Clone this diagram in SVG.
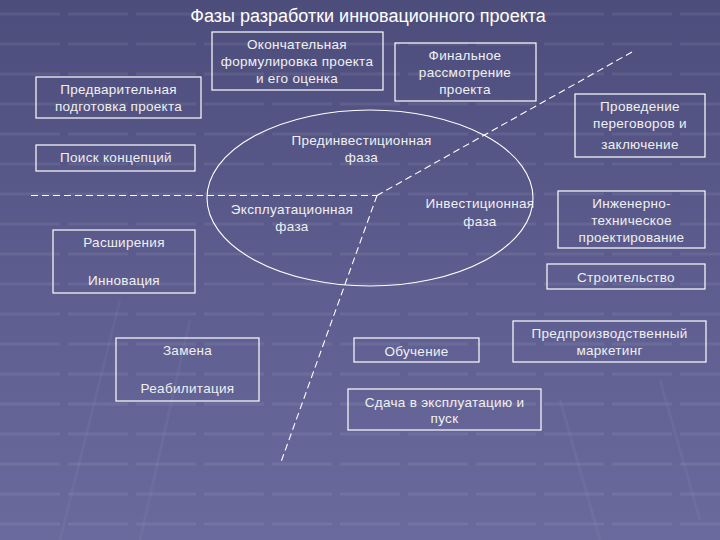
<svg xmlns="http://www.w3.org/2000/svg" width="720" height="540" viewBox="0 0 720 540">
  <defs>
    <linearGradient id="bg" x1="0" y1="0" x2="0" y2="1">
      <stop offset="0" stop-color="#4d4d7c"/>
      <stop offset="0.5" stop-color="#5c5c8e"/>
      <stop offset="1" stop-color="#6a6a9e"/>
    </linearGradient>
    <pattern id="stripes" x="0" y="0" width="720" height="30" patternUnits="userSpaceOnUse">
      <line x1="0" y1="14" x2="720" y2="14" stroke="#ffffff" stroke-opacity="0.07" stroke-width="3" stroke-dasharray="60,8"/>
    </pattern>
  </defs>
  <style>
    .box { fill: none; stroke: #ffffff; stroke-width: 1.2; }
    .t { font-family: "Liberation Sans", Arial, sans-serif; font-size: 13.5px; letter-spacing: 0.3px; fill: #f0f0f0; text-anchor: middle; }
    .title { font-family: "Liberation Sans", Arial, sans-serif; font-size: 18px; fill: #ffffff; text-anchor: middle; }
    .dash { fill: none; stroke: #ffffff; stroke-width: 1.1; stroke-dasharray: 7,4; }
    .ell { fill: none; stroke: #ffffff; stroke-width: 1.1; }
  </style>
  <rect x="0" y="0" width="720" height="540" fill="url(#bg)"/>
  <rect x="0" y="0" width="720" height="540" fill="url(#stripes)"/>
  <g stroke="#ffffff" stroke-opacity="0.04" stroke-width="3" fill="none">
    <line x1="60" y1="540" x2="120" y2="300"/>
    <line x1="140" y1="540" x2="190" y2="320"/>
    <line x1="600" y1="540" x2="560" y2="400"/>
    <line x1="700" y1="520" x2="660" y2="380"/>
  </g>

  <text class="title" x="368" y="22">Фазы разработки инновационного проекта</text>

  <g id="connectors">
    <ellipse class="ell" cx="370" cy="198" rx="163" ry="88"/>
    <line class="dash" x1="31" y1="195.5" x2="377" y2="195.5"/>
    <line class="dash" x1="632" y1="52" x2="377" y2="195.5"/>
    <line class="dash" x1="377" y1="195.5" x2="281" y2="462"/>
  </g>

  <g id="n-final-formulation">
    <rect class="box" x="212" y="32" width="171" height="58"/>
    <text class="t" x="297" y="49">Окончательная</text>
    <text class="t" x="297" y="66">формулировка проекта</text>
    <text class="t" x="297" y="83">и его оценка</text>
  </g>
  <g id="n-final-review">
    <rect class="box" x="395" y="43" width="141" height="58"/>
    <text class="t" x="465" y="60">Финальное</text>
    <text class="t" x="465" y="77">рассмотрение</text>
    <text class="t" x="465" y="94">проекта</text>
  </g>
  <g id="n-preliminary">
    <rect class="box" x="36" y="77" width="165" height="41"/>
    <text class="t" x="118.5" y="94">Предварительная</text>
    <text class="t" x="118.5" y="111">подготовка  проекта</text>
  </g>
  <g id="n-concept-search">
    <rect class="box" x="36" y="145" width="159" height="26"/>
    <text class="t" x="116" y="162">Поиск концепций</text>
  </g>
  <g id="n-negotiations">
    <rect class="box" x="575" y="94" width="130" height="63"/>
    <text class="t" x="640" y="111">Проведение</text>
    <text class="t" x="640" y="128">переговоров и</text>
    <text class="t" x="640" y="149">заключение</text>
  </g>
  <g id="n-preinvest-phase">
    <text class="t" x="361.5" y="145">Прединвестиционная</text>
    <text class="t" x="361.5" y="162">фаза</text>
  </g>
  <g id="n-operation-phase">
    <text class="t" x="292" y="214">Эксплуатационная</text>
    <text class="t" x="292" y="231">фаза</text>
  </g>
  <g id="n-invest-phase">
    <text class="t" x="480" y="208">Инвестиционная</text>
    <text class="t" x="480" y="226">фаза</text>
  </g>
  <g id="n-expansion">
    <rect class="box" x="53" y="230" width="142" height="63"/>
    <text class="t" x="124" y="247">Расширения</text>
    <text class="t" x="124" y="285">Инновация</text>
  </g>
  <g id="n-replacement">
    <rect class="box" x="116" y="338" width="143" height="63"/>
    <text class="t" x="187.5" y="355">Замена</text>
    <text class="t" x="187.5" y="393">Реабилитация</text>
  </g>
  <g id="n-engineering">
    <rect class="box" x="558" y="191" width="147" height="57"/>
    <text class="t" x="631.5" y="208">Инженерно-</text>
    <text class="t" x="631.5" y="225">техническое</text>
    <text class="t" x="631.5" y="242">проектирование</text>
  </g>
  <g id="n-construction">
    <rect class="box" x="547" y="264" width="158" height="25"/>
    <text class="t" x="626" y="282">Строительство</text>
  </g>
  <g id="n-marketing">
    <rect class="box" x="513" y="321" width="193" height="41"/>
    <text class="t" x="609.5" y="338">Предпроизводственный</text>
    <text class="t" x="609.5" y="355">маркетинг</text>
  </g>
  <g id="n-training">
    <rect class="box" x="354" y="338" width="125" height="24"/>
    <text class="t" x="416.5" y="356">Обучение</text>
  </g>
  <g id="n-commissioning">
    <rect class="box" x="348" y="389" width="193" height="41"/>
    <text class="t" x="444.5" y="407">Сдача в эксплуатацию и</text>
    <text class="t" x="444.5" y="423">пуск</text>
  </g>
</svg>
